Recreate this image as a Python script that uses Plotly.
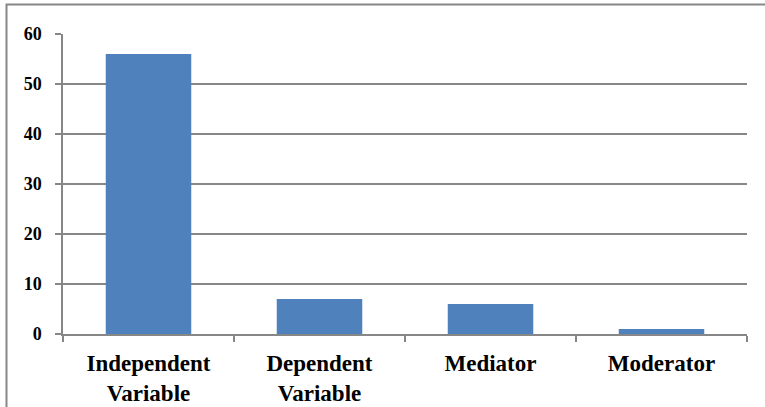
import plotly.graph_objects as go

categories = ["Independent<br>Variable", "Dependent<br>Variable", "Mediator", "Moderator"]
counts = [56, 7, 6, 1]
y_ticks = [0, 10, 20, 30, 40, 50, 60]

GRAY = "#878787"
BAR = "#4F81BD"
FONT = "Liberation Serif"

fig = go.Figure(
    go.Bar(
        x=categories,
        y=counts,
        marker=dict(color=BAR, line=dict(width=0)),
        width=0.5,
    )
)

fig.update_layout(
    width=765,
    height=407,
    margin=dict(l=63, r=18, t=34, b=73),
    paper_bgcolor="white",
    plot_bgcolor="white",
    showlegend=False,
    font=dict(family=FONT, color="black"),
    shapes=[
        # outer chart frame (continues past the right/bottom edge)
        dict(
            type="rect",
            xref="paper",
            yref="paper",
            x0=(6.5 - 63) / 684,
            x1=1.2,
            y0=-0.5,
            y1=1 + (34 - 4.5) / 300,
            line=dict(color=GRAY, width=2),
            layer="below",
        )
    ],
)

fig.update_yaxes(
    range=[0, 60],
    tickvals=y_ticks,
    showgrid=True,
    gridcolor=GRAY,
    gridwidth=1.5,
    zeroline=False,
    showline=True,
    linecolor=GRAY,
    linewidth=1.5,
    ticks="outside",
    ticklen=6,
    tickcolor=GRAY,
    tickwidth=1.5,
    ticklabelstandoff=10,
    automargin=False,
    tickfont=dict(family=FONT, size=18, color="black", weight="bold"),
)

fig.update_xaxes(
    showgrid=False,
    showline=True,
    linecolor=GRAY,
    linewidth=1.5,
    ticks="outside",
    tickson="boundaries",
    ticklen=6,
    tickcolor=GRAY,
    tickwidth=1.5,
    ticklabelstandoff=8,
    automargin=False,
    tickfont=dict(family=FONT, size=23, color="black", weight="bold"),
)

fig.write_html("out.html")
